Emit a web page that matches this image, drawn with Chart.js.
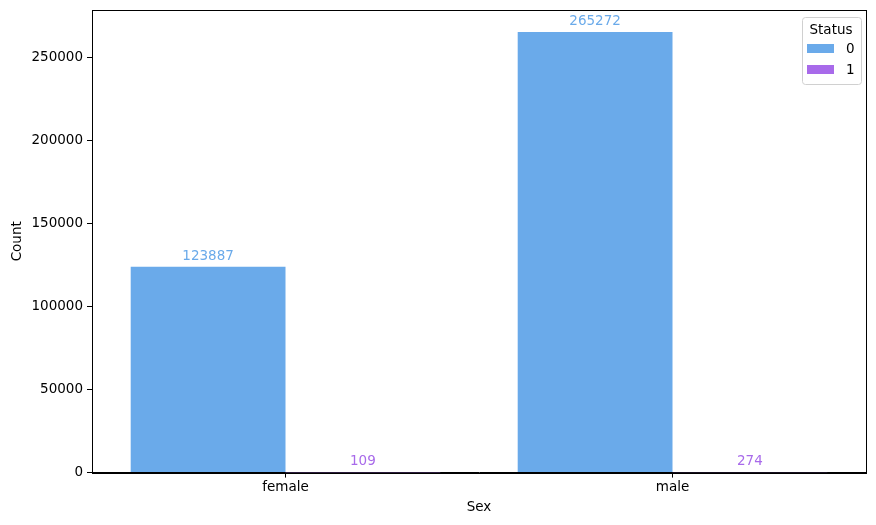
<!DOCTYPE html>
<html>
<head>
<meta charset="utf-8">
<script src="https://cdn.jsdelivr.net/npm/chart.js@4"></script>
<style>
  html, body { margin: 0; padding: 0; background: #fff; }
  #wrap { width: 876px; height: 525px; }
</style>
</head>
<body>
<div id="wrap"><canvas id="myChart" width="876" height="525"></canvas></div>
<script>
const categories = ["female", "male"];
const status0 = [123887, 265272];
const status1 = [109, 274];
const seriesNames = ["0", "1"];
const yTicks = [0, 50000, 100000, 150000, 200000, 250000];

const blue = "rgb(106,170,234)";
const purple = "rgb(168,106,234)";
const fontFam = "'DejaVu Sans', sans-serif";

// value labels over the bars + frame + legend box
const extras = {
  id: "extras",
  afterDatasetsDraw(chart) {
    const c = chart.ctx;
    c.save();
    c.font = "13.5px " + fontFam;
    c.textAlign = "center";
    c.textBaseline = "bottom";
    chart.data.datasets.forEach((ds, i) => {
      const meta = chart.getDatasetMeta(i);
      meta.data.forEach((bar, j) => {
        c.fillStyle = ds.backgroundColor;
        c.fillText(String(ds.data[j]), bar.x, bar.y - 4);
      });
    });
    c.restore();
  },
  afterDraw(chart) {
    const c = chart.ctx;
    const a = chart.chartArea;
    c.save();
    c.strokeStyle = "#000";
    c.lineWidth = 1;
    c.strokeRect(Math.round(a.left) + 0.5, Math.round(a.top) + 0.5,
      Math.round(a.right - a.left), Math.round(a.bottom - a.top));

    // legend
    const x0 = a.right - 64, y0 = a.top + 7, w = 59, h = 67;
    c.fillStyle = "rgba(255,255,255,0.8)";
    c.strokeStyle = "#d0d0d0";
    c.beginPath();
    c.roundRect(x0 + 0.5, y0 + 0.5, w, h, 3);
    c.fill();
    c.stroke();
    c.fillStyle = "#000";
    c.font = "13.5px " + fontFam;
    c.textAlign = "center";
    c.textBaseline = "middle";
    c.fillText("Status", x0 + 29, y0 + 13);
    chart.data.datasets.forEach((ds, i) => {
      const yy = y0 + 27 + i * 21;
      c.fillStyle = ds.backgroundColor;
      c.fillRect(x0 + 5, yy, 27, 9);
      c.fillStyle = "#000";
      c.textAlign = "left";
      c.fillText(ds.label, x0 + 44, yy + 5);
    });
    c.restore();
  }
};

new Chart(document.getElementById("myChart"), {
  type: "bar",
  data: {
    labels: categories,
    datasets: [
      { label: seriesNames[0], data: status0, backgroundColor: blue },
      { label: seriesNames[1], data: status1, backgroundColor: purple }
    ]
  },
  options: {
    responsive: false,
    animation: false,
    devicePixelRatio: 1,
    layout: { padding: { left: 9, right: 10, top: 10, bottom: 3 } },
    plugins: { legend: { display: false }, tooltip: { enabled: false } },
    datasets: { bar: { categoryPercentage: 0.8, barPercentage: 1.0 } },
    scales: {
      x: {
        grid: { display: true, drawOnChartArea: false, offset: false, tickLength: 5, color: "#000" },
        border: { color: "#000" },
        ticks: { color: "#000", font: { family: fontFam, size: 13.5 }, padding: 2 },
        title: { display: true, text: "Sex", color: "#000", font: { family: fontFam, size: 13.5 }, padding: { top: 2, bottom: 6 } }
      },
      y: {
        min: 0,
        max: 278500,
        afterBuildTicks(axis) { axis.ticks = yTicks.map(v => ({ value: v })); },
        afterFit(axis) { axis.width = 83; axis.paddingTop = 0; },
        grid: { display: true, drawOnChartArea: false, tickLength: 5, color: "#000" },
        border: { color: "#000" },
        ticks: { color: "#000", font: { family: fontFam, size: 13.5 }, padding: 4, callback: v => String(v) },
        title: { display: true, text: "Count", color: "#000", font: { family: fontFam, size: 13.5 }, padding: { top: 0, bottom: 4 } }
      }
    }
  },
  plugins: [extras]
});
</script>
</body>
</html>
